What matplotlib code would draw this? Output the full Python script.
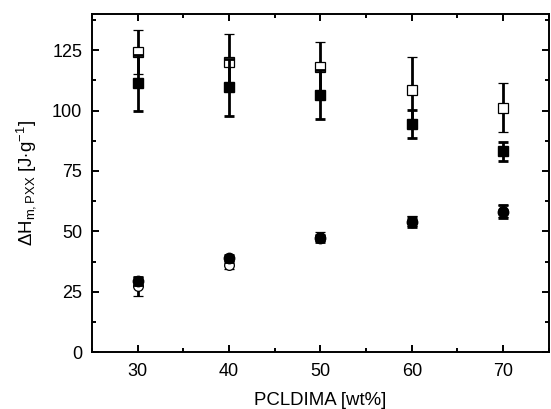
import matplotlib
matplotlib.use("Agg")
import matplotlib.pyplot as plt
from matplotlib.ticker import MultipleLocator

plt.rcParams["font.family"] = ["Liberation Sans", "DejaVu Sans"]
plt.rcParams["mathtext.fontset"] = "custom"
plt.rcParams["mathtext.rm"] = "Liberation Sans"
plt.rcParams["mathtext.it"] = "Liberation Sans"

pcl = [30, 40, 50, 60, 70]

sq_open = [124.3, 120.2, 118.1, 108.5, 101.1]
sq_open_err = [9.2, 11.4, 10.2, 13.5, 10.1]
sq_filled = [111.3, 109.6, 106.6, 94.4, 83.1]
sq_filled_err = [11.6, 11.7, 10.2, 5.9, 3.8]

circ_open = [27.2, 36.1, 47.8, 54.3, 58.5]
circ_open_err = [3.8, 1.8, 2.0, 2.0, 2.5]
circ_filled = [29.5, 38.9, 47.1, 54.0, 58.1]
circ_filled_err = [1.5, 1.5, 1.5, 2.0, 2.7]

fig = plt.figure(figsize=(5.51, 4.09), dpi=100)
ax = fig.add_axes([0.167, 0.139, 0.829, 0.827])

common = dict(linestyle="none", ecolor="black", elinewidth=2.0, capsize=3.8, capthick=2.0)

ax.errorbar(pcl, sq_open, yerr=sq_open_err, marker="s", markersize=7.2,
            markerfacecolor="white", markeredgecolor="black", markeredgewidth=0.9,
            zorder=3, **common)
ax.errorbar(pcl, circ_open, yerr=circ_open_err, marker="o", markersize=7,
            markerfacecolor="white", markeredgecolor="black", markeredgewidth=0.9,
            zorder=3, **common)
ax.errorbar(pcl, sq_filled, yerr=sq_filled_err, marker="s", markersize=7,
            markerfacecolor="black", markeredgecolor="black",
            zorder=4, **common)
ax.errorbar(pcl, circ_filled, yerr=circ_filled_err, marker="o", markersize=7.5,
            markerfacecolor="black", markeredgecolor="black",
            zorder=4, **common)

ax.set_xlim(25, 75)
ax.set_ylim(0, 140)
ax.xaxis.set_major_locator(MultipleLocator(10))
ax.xaxis.set_minor_locator(MultipleLocator(5))
ax.yaxis.set_major_locator(MultipleLocator(25))
ax.yaxis.set_minor_locator(MultipleLocator(12.5))
ax.tick_params(which="both", direction="in", top=True, right=True, width=1.4)
ax.tick_params(which="major", length=5, labelsize=13)
ax.tick_params(axis="x", which="major", pad=8)
ax.tick_params(axis="y", which="major", pad=7)
ax.tick_params(which="minor", length=3)
for s in ax.spines.values():
    s.set_linewidth(1.4)

ax.set_xlabel("PCLDIMA [wt%]", fontsize=13.4, labelpad=8.5)
ax.set_ylabel(r"$\Delta$H$_{\mathrm{m,PXX}}$ [J$\cdot$g$^{-1}$]", fontsize=13.4, labelpad=10)

fig.savefig("out.png", dpi=100)
